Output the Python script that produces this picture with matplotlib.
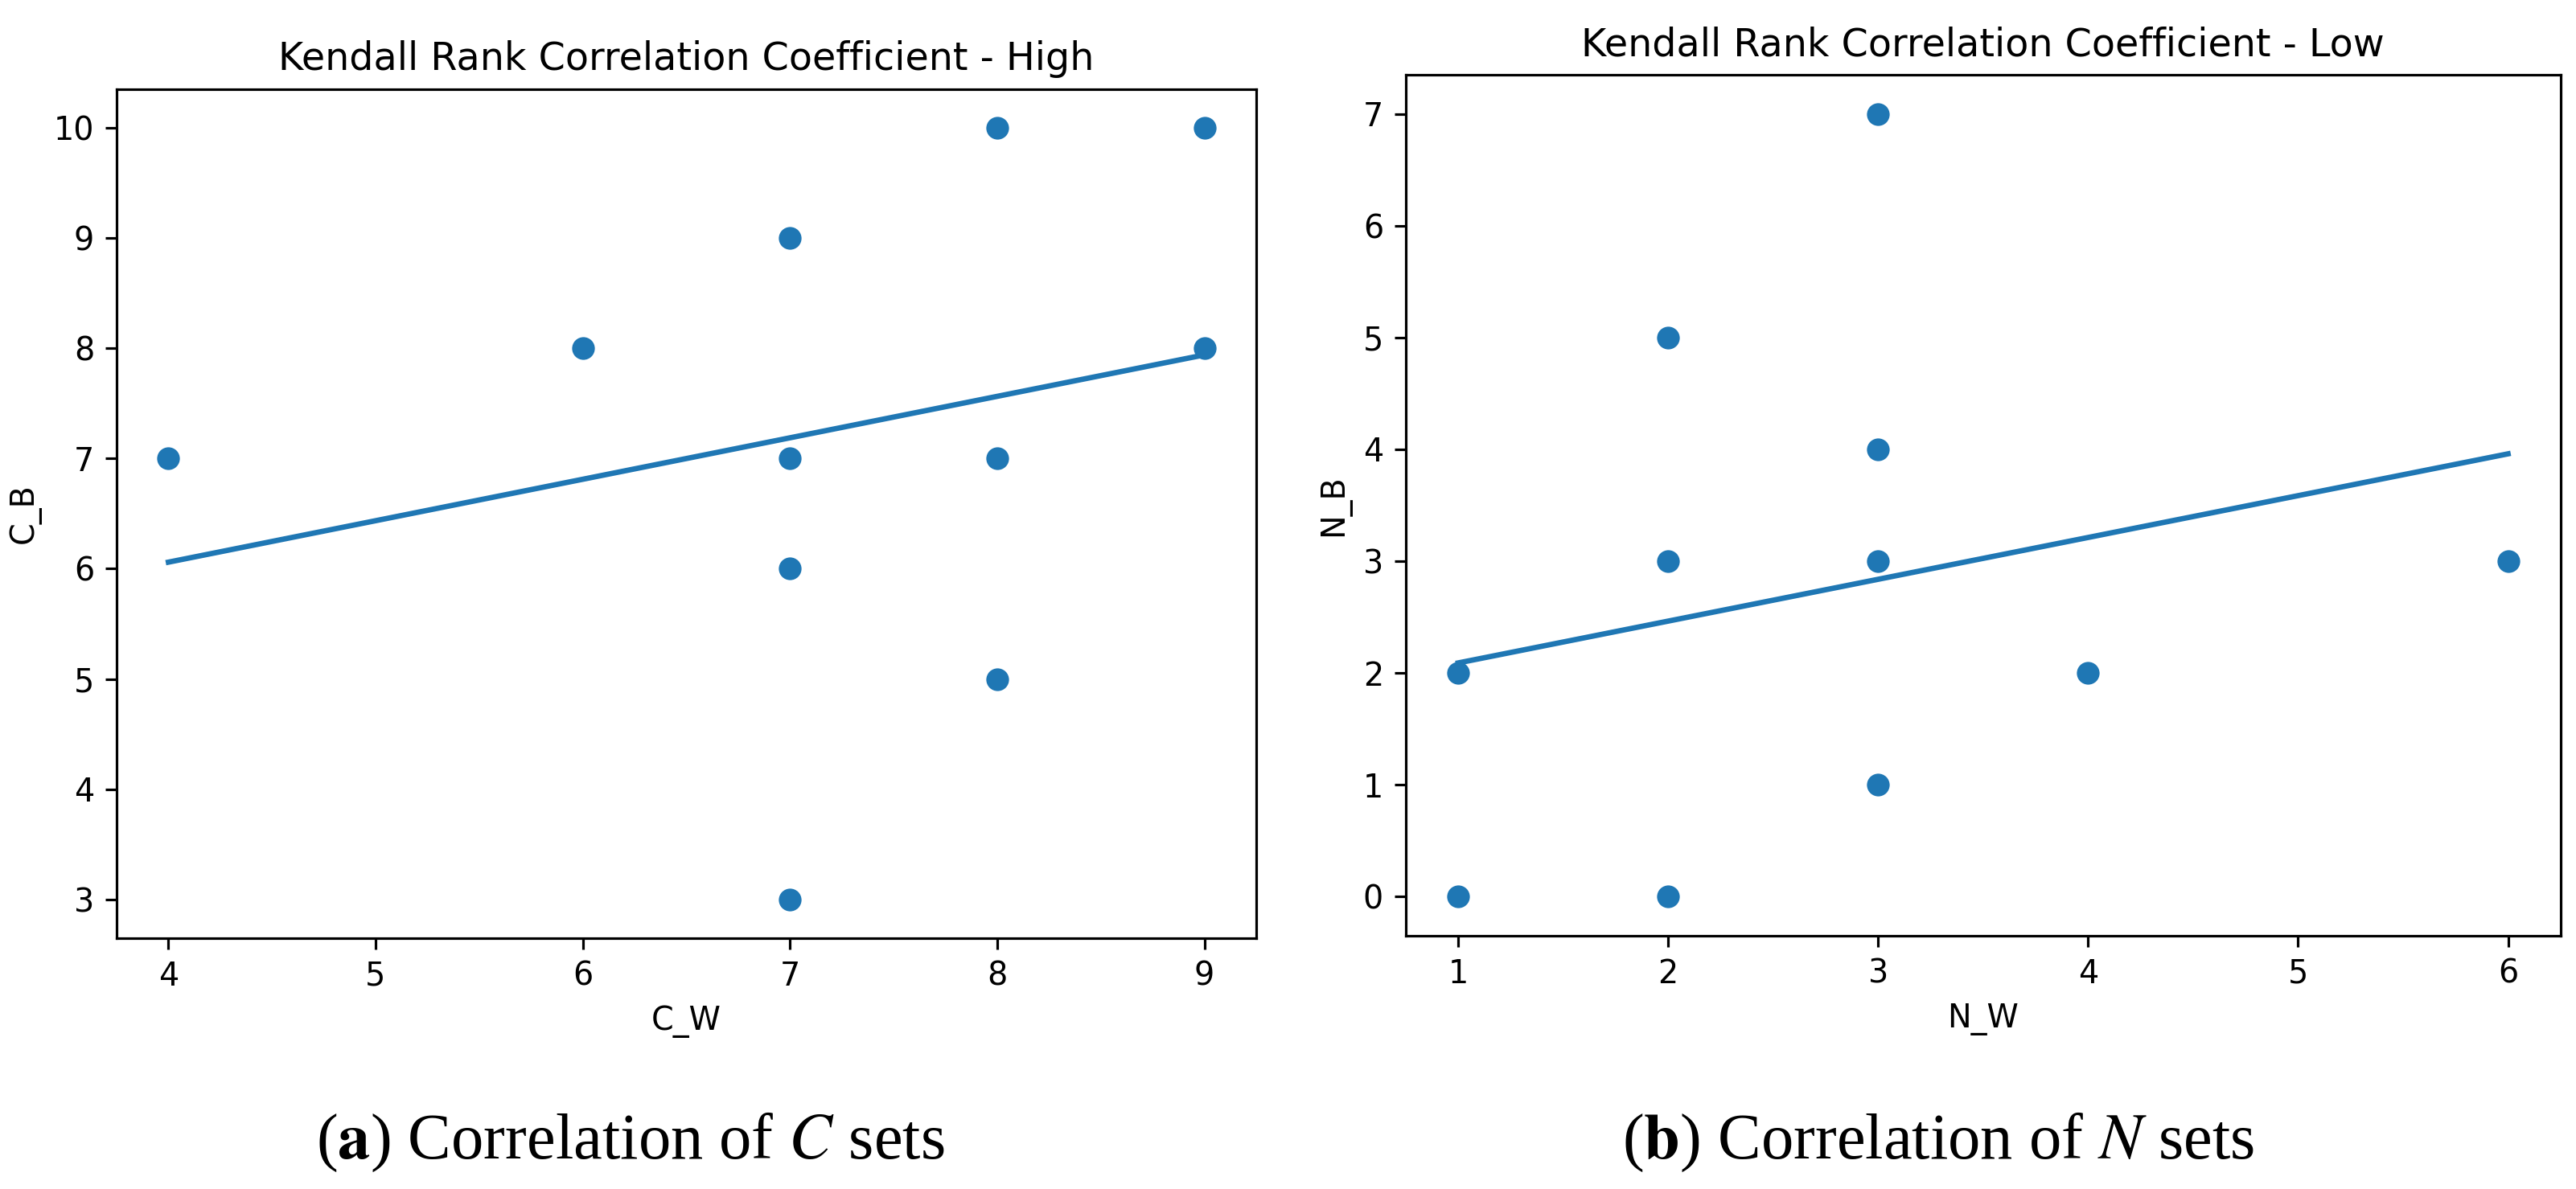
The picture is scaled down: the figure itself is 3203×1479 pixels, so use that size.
import matplotlib
matplotlib.use("Agg")
import matplotlib.pyplot as plt
import numpy as np

# ---- data ----
c_w = [4, 6, 7, 7, 7, 7, 8, 8, 8, 9, 9, 9]
c_b = [7, 8, 9, 7, 6, 3, 10, 7, 5, 10, 8, 8]
c_fit = (0.376, 4.556)   # slope, intercept

n_w = [1, 1, 1, 2, 2, 2, 3, 3, 3, 3, 3, 4, 6]
n_b = [2, 2, 0, 5, 3, 0, 7, 4, 3, 3, 1, 2, 3]
n_fit = (0.374, 1.716)

titles = ["Kendall Rank Correlation Coefficient - High",
          "Kendall Rank Correlation Coefficient - Low"]
xlabels = ["C_W", "N_W"]
ylabels = ["C_B", "N_B"]
captions = [r"($\mathbf{a}$) Correlation of $C$ sets",
            r"($\mathbf{b}$) Correlation of $N$ sets"]

K = 2.86
plt.rcParams.update({
    "font.family": ["DejaVu Sans"],
    "font.size": 10 * K,
    "axes.linewidth": 0.8 * K,
    "xtick.major.size": 3.5 * K,
    "ytick.major.size": 3.5 * K,
    "xtick.major.width": 0.8 * K,
    "ytick.major.width": 0.8 * K,
    "xtick.major.pad": 3.5 * K,
    "ytick.major.pad": 3.5 * K,
    "axes.labelpad": 4 * K,
    "axes.titlepad": 6 * K,
    "axes.titlesize": 12 * K,
    "axes.labelsize": 10 * K,
})

fig = plt.figure(figsize=(32.03, 14.79), dpi=100)
ax1 = fig.add_axes([0.04527, 0.2110, 0.4424, 0.7140])
ax2 = fig.add_axes([0.5457, 0.2130, 0.4483, 0.7241])

color = "#1f77b4"
for ax, xs, ys, fit, t, xl, yl in [
    (ax1, c_w, c_b, c_fit, titles[0], xlabels[0], ylabels[0]),
    (ax2, n_w, n_b, n_fit, titles[1], xlabels[1], ylabels[1]),
]:
    xs = np.array(xs, dtype=float)
    ys = np.array(ys, dtype=float)
    ax.scatter(xs, ys, s=500, color=color, edgecolor="white", linewidth=2.0, zorder=2)
    xl_line = np.array([xs.min(), xs.max()])
    ax.plot(xl_line, fit[0] * xl_line + fit[1], color=color, linewidth=4.8, zorder=3)
    ax.set_title(t)
    ax.set_xlabel(xl)
    ax.set_ylabel(yl)
    ax.margins(0.05)

for xc, cap in zip([0.2448, 0.7524], captions):
    fig.text(xc, 0.026, cap, ha="center", va="baseline",
             fontsize=58, family="Liberation Serif", math_fontfamily="stix")

fig.savefig("out.png", dpi=100)
